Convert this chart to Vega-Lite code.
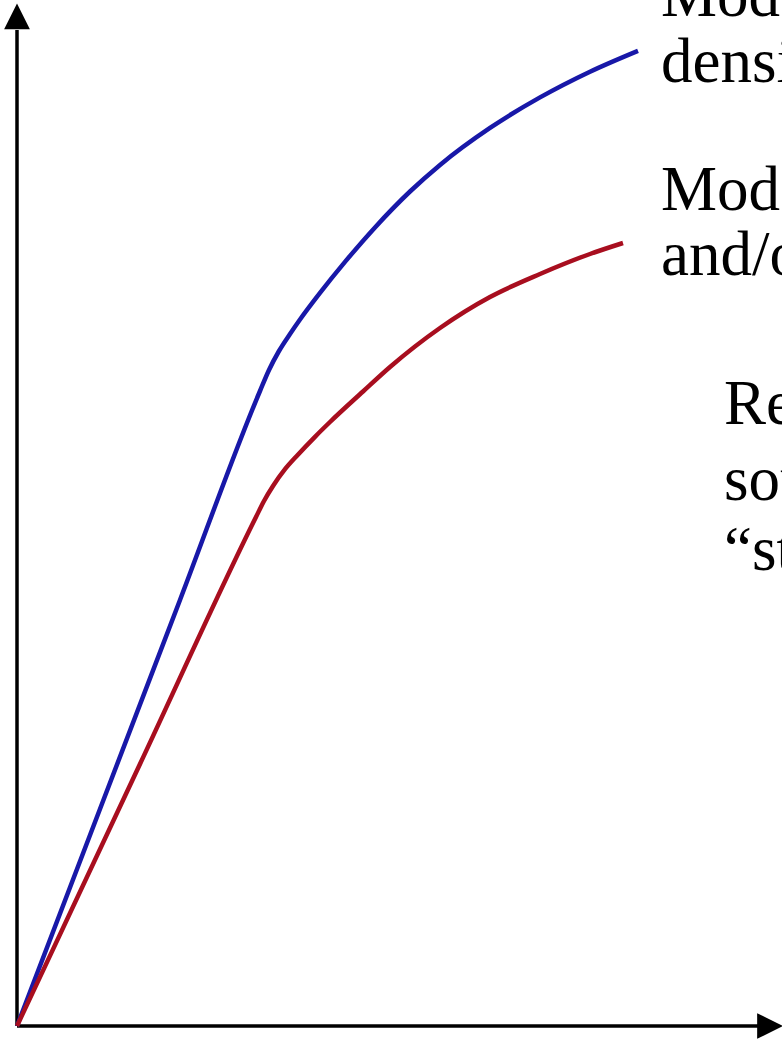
{
  "$schema": "https://vega.github.io/schema/vega-lite/v6.json",
  "width": 782,
  "height": 1039,
  "padding": 0,
  "autosize": {"type": "none"},
  "background": "white",
  "config": {"view": {"stroke": null}},
  "datasets": {
    "curves": [
      {"series": "blue", "x": 0, "y": 0},
      {"series": "blue", "x": 8.3, "y": 21.7},
      {"series": "blue", "x": 16.3, "y": 42.6},
      {"series": "blue", "x": 24.3, "y": 63.5},
      {"series": "blue", "x": 25.2, "y": 65.6},
      {"series": "blue", "x": 26.2, "y": 67.5},
      {"series": "blue", "x": 27.3, "y": 69.2},
      {"series": "blue", "x": 28.3, "y": 70.65},
      {"series": "blue", "x": 30.3, "y": 73.31},
      {"series": "blue", "x": 32.8, "y": 76.41},
      {"series": "blue", "x": 35.8, "y": 79.86},
      {"series": "blue", "x": 39.3, "y": 83.45},
      {"series": "blue", "x": 42.3, "y": 86.11},
      {"series": "blue", "x": 47.3, "y": 89.81},
      {"series": "blue", "x": 52.3, "y": 92.86},
      {"series": "blue", "x": 57.3, "y": 95.43},
      {"series": "blue", "x": 62.1, "y": 97.52},
      {"series": "red", "x": 0, "y": 0},
      {"series": "red", "x": 12.3, "y": 26.2},
      {"series": "red", "x": 23.9, "y": 50.9},
      {"series": "red", "x": 24.7, "y": 52.5},
      {"series": "red", "x": 25.6, "y": 54.0},
      {"series": "red", "x": 26.8, "y": 55.68},
      {"series": "red", "x": 28.0, "y": 57.03},
      {"series": "red", "x": 29.8, "y": 58.92},
      {"series": "red", "x": 31.3, "y": 60.4},
      {"series": "red", "x": 34.6, "y": 63.45},
      {"series": "red", "x": 37.3, "y": 65.9},
      {"series": "red", "x": 42.3, "y": 69.8},
      {"series": "red", "x": 47.3, "y": 72.9},
      {"series": "red", "x": 52.3, "y": 75.2},
      {"series": "red", "x": 57.3, "y": 77.2},
      {"series": "red", "x": 60.6, "y": 78.3}
    ],
    "axisLines": [
      {"x": 0, "y": 0, "x2": 0, "y2": 99.6},
      {"x": 0, "y": 0, "x2": 74.1, "y2": 0}
    ],
    "arrows": [
      {"dir": "up", "x": 0, "y": 100.97},
      {"dir": "right", "x": 75.3, "y": 0}
    ],
    "labels": [
      {"x": 64.4, "y": 101.0, "text": "Model with high"},
      {"x": 64.4, "y": 94.4, "text": "density"},
      {"x": 64.4, "y": 81.6, "text": "Model with low"},
      {"x": 64.4, "y": 75.1, "text": "and/or"},
      {"x": 70.7, "y": 60.2, "text": "Real"},
      {"x": 70.7, "y": 52.6, "text": "sound"},
      {"x": 70.7, "y": 45.6, "text": "“strain”"}
    ]
  },
  "layer": [
    {
      "data": {"name": "axisLines"},
      "mark": {"type": "rule", "strokeWidth": 3.5, "color": "black"},
      "encoding": {
        "x": {"field": "x", "type": "quantitative", "scale": {"domain": [-1.7, 76.5], "nice": false, "zero": false}, "axis": null},
        "y": {"field": "y", "type": "quantitative", "scale": {"domain": [-1.3, 102.6], "nice": false, "zero": false}, "axis": null},
        "x2": {"field": "x2"},
        "y2": {"field": "y2"}
      }
    },
    {
      "data": {"name": "arrows"},
      "mark": {"type": "point", "filled": true, "color": "black", "strokeWidth": 0, "opacity": 1, "size": 660},
      "encoding": {
        "x": {"field": "x", "type": "quantitative", "scale": {"domain": [-1.7, 76.5], "nice": false, "zero": false}, "axis": null},
        "y": {"field": "y", "type": "quantitative", "scale": {"domain": [-1.3, 102.6], "nice": false, "zero": false}, "axis": null},
        "shape": {"field": "dir", "type": "nominal", "scale": {"domain": ["up", "right"], "range": ["M0,-1L-1,1L1,1Z", "M1,0L-1,-1L-1,1Z"]}, "legend": null}
      }
    },
    {
      "data": {"name": "curves"},
      "mark": {"type": "line", "strokeWidth": 4.5, "interpolate": "monotone", "strokeCap": "butt"},
      "encoding": {
        "x": {"field": "x", "type": "quantitative", "scale": {"domain": [-1.7, 76.5], "nice": false, "zero": false}, "axis": null},
        "y": {"field": "y", "type": "quantitative", "scale": {"domain": [-1.3, 102.6], "nice": false, "zero": false}, "axis": null},
        "color": {"field": "series", "type": "nominal", "scale": {"domain": ["blue", "red"], "range": ["#1818a8", "#a80e1f"]}, "legend": null}
      }
    },
    {
      "data": {"name": "labels"},
      "mark": {"type": "text", "font": "Liberation Serif", "fontSize": 63, "align": "left", "baseline": "alphabetic", "color": "black"},
      "encoding": {
        "x": {"field": "x", "type": "quantitative", "scale": {"domain": [-1.7, 76.5], "nice": false, "zero": false}, "axis": null},
        "y": {"field": "y", "type": "quantitative", "scale": {"domain": [-1.3, 102.6], "nice": false, "zero": false}, "axis": null},
        "text": {"field": "text"}
      }
    }
  ]
}
